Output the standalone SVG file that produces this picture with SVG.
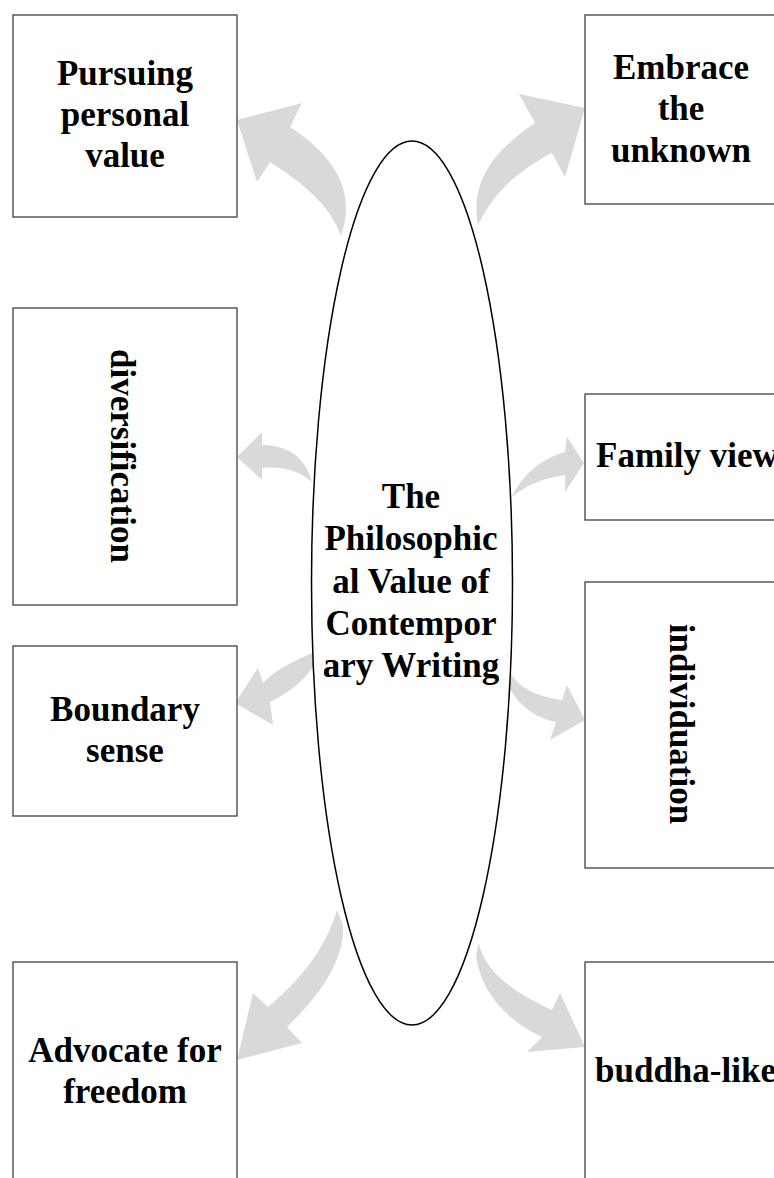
<svg xmlns="http://www.w3.org/2000/svg" width="774" height="1178" viewBox="0 0 774 1178">
<style>
.box{fill:#fff;stroke:#4d4d4d;stroke-width:1.4}
.t{font-family:"Liberation Serif","Times New Roman",serif;font-weight:bold;font-size:35px;fill:#000}
.m{text-anchor:middle}
.arr{fill:#d9d9d9;stroke:none}
</style>
<rect width="774" height="1178" fill="#fff"/>
<g id="connectors">
<path class="arr" d="M341,236 C355,195 340,160 290,127 L302,103 L237,120 L257,182 L270,162 C305,185 330,205 341,236 Z"/>
<path class="arr" d="M478,225 C470,180 495,150 535,123 L519,94 L585,108 L565,177 L552,153 C520,170 495,190 478,225 Z"/>
<path class="arr" d="M312,482 C305,455 285,445 262,445 L262,432 L237,457 L262,480 L262,468 C285,466 300,472 312,482 Z"/>
<path class="arr" d="M315,652 C295,660 275,670 263,683 L258,668 L235,703 L273,725 L270,702 C290,692 305,680 315,664 Z"/>
<path class="arr" d="M512,497 C525,470 545,458 565,452 L567,437 L584,463 L565,492 L565,475 C545,478 525,485 512,497 Z"/>
<path class="arr" d="M508,670 C520,690 540,697 562,700 L567,685 L585,720 L550,740 L556,722 C535,718 518,705 508,685 Z"/>
<path class="arr" d="M337,910 C325,950 300,980 268,1007 L253,993 L237,1060 L302,1043 L287,1027 C320,995 345,960 343,925 Z"/>
<path class="arr" d="M479,943 C485,975 520,995 552,1010 L560,993 L585,1047 L527,1052 L542,1037 C505,1020 480,990 476,955 Z"/>
</g>
<g id="center">
<ellipse cx="412" cy="583" rx="100.5" ry="442" fill="#fff" stroke="#000" stroke-width="1.5"/>
<text class="t m" x="411" y="508">The</text>
<text class="t m" x="411" y="550">Philosophic</text>
<text class="t m" x="411" y="593">al Value of</text>
<text class="t m" x="411" y="635">Contempor</text>
<text class="t m" x="411" y="677">ary Writing</text>
</g>
<g id="n-pursuing">
<rect class="box" x="13" y="15" width="224" height="202"/>
<text class="t m" x="125" y="85">Pursuing</text>
<text class="t m" x="125" y="126">personal</text>
<text class="t m" x="125" y="167">value</text>
</g>
<g id="n-diversification">
<rect class="box" x="13" y="308" width="224" height="297"/>
<text class="t m" transform="translate(111,456) rotate(90)">diversification</text>
</g>
<g id="n-boundary">
<rect class="box" x="13" y="646" width="224" height="170"/>
<text class="t m" x="125" y="721">Boundary</text>
<text class="t m" x="125" y="762">sense</text>
</g>
<g id="n-advocate">
<rect class="box" x="13" y="962" width="224" height="240"/>
<text class="t m" x="125" y="1062">Advocate for</text>
<text class="t m" x="125" y="1103">freedom</text>
</g>
<g id="n-embrace">
<rect class="box" x="585" y="15" width="200" height="189"/>
<text class="t m" x="681" y="79">Embrace</text>
<text class="t m" x="681" y="120">the</text>
<text class="t m" x="681" y="162">unknown</text>
</g>
<g id="n-family">
<rect class="box" x="585" y="394" width="200" height="126"/>
<text class="t" x="596" y="467">Family view</text>
</g>
<g id="n-individuation">
<rect class="box" x="585" y="582" width="200" height="286"/>
<text class="t m" transform="translate(670,724) rotate(90)">individuation</text>
</g>
<g id="n-buddha">
<rect class="box" x="585" y="962" width="200" height="240"/>
<text class="t" x="595" y="1082">buddha-like</text>
</g>
</svg>
